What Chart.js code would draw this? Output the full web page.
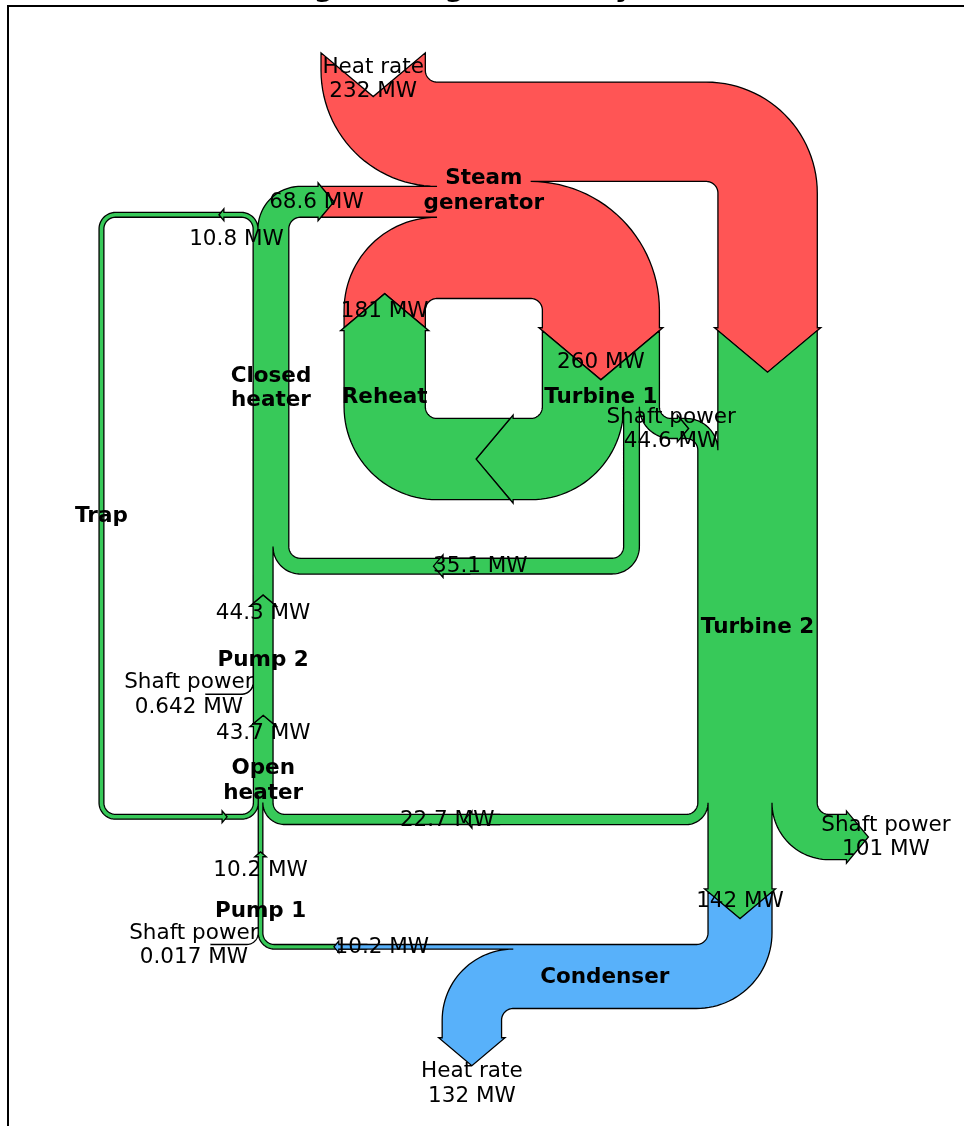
<!DOCTYPE html>
<html>
<head>
<meta charset="utf-8">
<script src="https://cdn.jsdelivr.net/npm/chart.js@4.4.1/dist/chart.umd.min.js"></script>
<style>
html, body { margin: 0; padding: 0; background: #fff; }
canvas { display: block; }
</style>
</head>
<body>
<canvas id="chart" width="964" height="1126"></canvas>
<script>
// Rankine power cycle: energy flow rates in MW
const Hdot = [260.431, 35.078, 180.794, 221.115, 22.700,
              142.361, 10.193, 10.210, 43.670, 44.312,
              68.631, 10.758, 10.758, 0.017, 0.642,
              232.121, 44.559, 100.613, 132.168];

const patchLabels = ['\n\nPump 1', '\n\nOpen\nheater', '\n\nPump 2', 'Closed\nheater', 'Trap',
                     'Steam\ngenerator', '\n\n\nTurbine 1', '\n\n\nReheat', 'Turbine 2', 'Condenser'];
const flows = [
  [Hdot[13], Hdot[6], -Hdot[7]],
  [Hdot[11], Hdot[7], Hdot[4], -Hdot[8]],
  [Hdot[14], Hdot[8], -Hdot[9]],
  [Hdot[9], Hdot[1], -Hdot[11], -Hdot[10]],
  [Hdot[11], -Hdot[12]],
  [Hdot[15], Hdot[10], Hdot[2], -Hdot[3], -Hdot[0]],
  [Hdot[0], -Hdot[16], -Hdot[1], -Hdot[2]],
  [Hdot[2], -Hdot[2]],
  [Hdot[3], Hdot[16], -Hdot[5], -Hdot[4], -Hdot[17]],
  [Hdot[5], -Hdot[18], -Hdot[6]]
];
const flowLabels = [
  ['Shaft power', '', null],
  [null, '', null, null],
  ['Shaft power', '', null],
  ['', '', null, null],
  ['\n', null],
  ['Heat rate', '', '', null, null],
  ['', null, null, null],
  [null, null],
  [null, 'Shaft power', null, '', 'Shaft power'],
  ['', 'Heat rate', null]
];
const orientations = [[1, -1, 0], [1, 0, -1, 0], [1, 0, 0], [0, -1, 1, -1], [1, 1],
                      [1, 0, -1, -1, -1], [0, 1, -1, -1], [-1, 0], [0, -1, 0, -1, 1], [-1, 1, 0]];
const priors = [null, 0, 1, 2, 3, 3, 5, 6, 6, 8];
const connects = [null, [2, 1], [3, 1], [2, 0], [2, 0], [3, 1], [4, 0], [3, 0], [1, 1], [2, 0]];
const pathLengths = [[0.4, 0.883, 0.25], [0.25, 0.25, 1.93, 0.25], [0.4, 0.25, 0.25],
                     [0.25, 1.543, 0.25, 0.25], [1.0, 1.01], 0.25, [0.25, 0.153, 1.543, 0.25],
                     [0.725, 0.25], [0.751, 0.15, 0.25, 1.93, 0.25], [0.45, 0.25, 0.883]];
const trunkLengths = [1, 1, 1, 2.914, 5.102, 1, 1, 1, 3.212, 1.764];
const rotations = [90, 0, 0, 0, 0, 0, 0, 0, 0, 0];
const colors = ['#37c959', '#37c959', '#37c959', '#37c959', '#37c959',
                '#ff5555', '#37c959', '#37c959', '#37c959', '#58b1fa'];
const unit = ' MW';
const titleLines = ['Rankine Power Cycle: Example 8.6 from Moran and Shapiro',
                    '"Fundamentals of Engineering Thermodynamics ", 6th ed., 2008'];

// sankey layout settings (matplotlib defaults, gap 0.5)
const SCALE = 1 / Hdot[0], GAP = 0.5, RADIUS = 0.1, SHOULDER = 0.03, OFFSET = 0.15, MARGIN = 0.4;
const PITCH = Math.tan(Math.PI * (1 - 100 / 180) / 2), TOL = 1e-6;
const RIGHT = 0, UP = 1, DOWN = 3;

const ARC = [[1, 0], [1, 0.265114773], [0.894571235, 0.519642327], [0.707106781, 0.707106781],
             [0.519642327, 0.894571235], [0.265114773, 1], [0, 1]];
const ARC_CODES = ['L', 'C', 'C', 'C', 'C', 'C', 'C'];

function arc(quadrant, cw, radius, cx, cy) {
  let v;
  if (quadrant === 0 || quadrant === 2) v = cw ? ARC : ARC.map(p => [p[1], p[0]]);
  else v = cw ? ARC.map(p => [-p[1], p[0]]) : ARC.map(p => [-p[0], p[1]]);
  if (quadrant > 1) radius = -radius;
  return v.map((p, i) => [ARC_CODES[i], radius * p[0] + cx, radius * p[1] + cy]);
}

function addInput(path, angle, flow, length) {
  if (angle === null) return [[0, 0], [0, 0]];
  let [, x, y] = path[path.length - 1];
  const dipdepth = (flow / 2) * PITCH;
  if (angle === RIGHT) {
    x -= length;
    const dip = [x + dipdepth, y + flow / 2];
    path.push(['L', x, y], ['L', dip[0], dip[1]], ['L', x, y + flow], ['L', x + GAP, y + flow]);
    return [dip, [dip[0] - OFFSET, dip[1]]];
  }
  x -= GAP;
  const sign = angle === UP ? 1 : -1;
  const dip = [x - flow / 2, y - sign * (length - dipdepth)];
  const quadrant = angle === DOWN ? 2 : 1;
  path.push(...arc(quadrant, angle === UP, RADIUS, x + RADIUS, y - sign * RADIUS));
  path.push(['L', x, y - sign * length], ['L', dip[0], dip[1]], ['L', x - flow, y - sign * length]);
  path.push(...arc(quadrant, angle === DOWN, flow + RADIUS, x + RADIUS, y - sign * RADIUS));
  path.push(['L', x - flow, y + sign * flow]);
  return [dip, [dip[0], dip[1] - sign * OFFSET]];
}

function addOutput(path, angle, flow, length) {
  if (angle === null) return [[0, 0], [0, 0]];
  let [, x, y] = path[path.length - 1];
  const tipheight = (SHOULDER - flow / 2) * PITCH;
  if (angle === RIGHT) {
    x += length;
    const tip = [x + tipheight, y + flow / 2];
    path.push(['L', x, y], ['L', x, y + SHOULDER], ['L', tip[0], tip[1]],
              ['L', x, y - SHOULDER + flow], ['L', x, y + flow], ['L', x - GAP, y + flow]);
    return [tip, [tip[0] + OFFSET, tip[1]]];
  }
  x += GAP;
  const sign = angle === UP ? 1 : -1;
  const quadrant = angle === UP ? 3 : 0;
  const tip = [x - flow / 2, y + sign * (length + tipheight)];
  path.push(...arc(quadrant, angle === UP, RADIUS, x - RADIUS, y + sign * RADIUS));
  path.push(['L', x, y + sign * length], ['L', x - SHOULDER, y + sign * length], ['L', tip[0], tip[1]],
            ['L', x + SHOULDER - flow, y + sign * length], ['L', x - flow, y + sign * length]);
  path.push(...arc(quadrant, angle === DOWN, RADIUS - flow, x - RADIUS, y + sign * RADIUS));
  path.push(['L', x - flow, y + sign * flow]);
  return [tip, [tip[0], tip[1] + sign * OFFSET]];
}

// reverse a path, moving each code onto the vertex before it
function revert(path) {
  const out = [];
  let next = 'L';
  for (let i = path.length - 1; i >= 0; i--) {
    out.push([next, path[i][1], path[i][2]]);
    next = path[i][0];
  }
  return out;
}

function rotatePt(p, quarter) {
  const a = quarter * Math.PI / 2;
  const c = Math.round(Math.cos(a)), s = Math.round(Math.sin(a));
  return [p[0] * c - p[1] * s, p[0] * s + p[1] * c];
}

function fmt(v) {
  return String(parseFloat(Math.abs(v).toPrecision(3)));
}

const diagrams = [];

function addDiagram(k) {
  const fl = flows[k], n = fl.length, trunk = trunkLengths[k];
  const scaled = fl.map(f => f * SCALE);
  const gain = scaled.reduce((s, f) => s + Math.max(f, 0), 0);
  const loss = scaled.reduce((s, f) => s + Math.min(f, 0), 0);
  const isIn = fl.map(f => f >= TOL ? true : (f <= -TOL ? false : null));
  const angles = orientations[k].map((o, i) => {
    if (isIn[i] === null) return null;
    if (o === 1) return isIn[i] ? DOWN : UP;
    if (o === 0) return RIGHT;
    return isIn[i] ? UP : DOWN;
  });

  let pl;
  if (Array.isArray(pathLengths[k])) {
    pl = pathLengths[k].slice();
  } else {
    const L = pathLengths[k];
    let ur = L, ul = L, lr = L, ll = L;
    pl = angles.map(() => 0); // side arrows get no length, as in matplotlib
    for (let i = 0; i < n; i++) {
      if (angles[i] === DOWN && isIn[i]) { pl[i] = ul; ul += scaled[i]; }
      else if (angles[i] === UP && isIn[i] === false) { pl[i] = ur; ur -= scaled[i]; }
    }
    for (let i = n - 1; i >= 0; i--) {
      if (angles[i] === UP && isIn[i]) { pl[i] = ll; ll += scaled[i]; }
      else if (angles[i] === DOWN && isIn[i] === false) { pl[i] = lr; lr -= scaled[i]; }
    }
    let hasL = false;
    for (let i = n - 1; i >= 0; i--) {
      if (angles[i] === RIGHT && isIn[i]) { if (hasL) pl[i] = 0; else hasL = true; }
    }
    let hasR = false;
    for (let i = 0; i < n; i++) {
      if (angles[i] === RIGHT && isIn[i] === false) { if (hasR) pl[i] = 0; else hasR = true; }
    }
  }

  const urpath = [['M', GAP - trunk / 2, gain / 2],
                  ['L', (GAP - trunk / 2) / 2, gain / 2],
                  ['C', (GAP - trunk / 2) / 8, gain / 2],
                  ['C', (trunk / 2 - GAP) / 8, -loss / 2],
                  ['L', (trunk / 2 - GAP) / 2, -loss / 2],
                  ['L', trunk / 2 - GAP, -loss / 2]];
  const llpath = [['L', trunk / 2 - GAP, loss / 2],
                  ['L', (trunk / 2 - GAP) / 2, loss / 2],
                  ['C', (trunk / 2 - GAP) / 8, loss / 2],
                  ['C', (GAP - trunk / 2) / 8, -gain / 2],
                  ['L', (GAP - trunk / 2) / 2, -gain / 2],
                  ['L', GAP - trunk / 2, -gain / 2]];
  const lrpath = [['L', trunk / 2 - GAP, loss / 2]];
  const ulpath = [['L', GAP - trunk / 2, gain / 2]];

  const tips = angles.map(() => [0, 0]);
  const labLoc = angles.map(() => [0, 0]);
  for (let i = 0; i < n; i++) {
    if (angles[i] === DOWN && isIn[i]) [tips[i], labLoc[i]] = addInput(ulpath, angles[i], scaled[i], pl[i]);
    else if (angles[i] === UP && isIn[i] === false) [tips[i], labLoc[i]] = addOutput(urpath, angles[i], scaled[i], pl[i]);
  }
  for (let i = n - 1; i >= 0; i--) {
    if (angles[i] === UP && isIn[i]) [tips[i], labLoc[i]] = addInput(llpath, angles[i], scaled[i], pl[i]);
    else if (angles[i] === DOWN && isIn[i] === false) [tips[i], labLoc[i]] = addOutput(lrpath, angles[i], scaled[i], pl[i]);
  }
  let hasLeft = false;
  for (let i = n - 1; i >= 0; i--) {
    if (angles[i] === RIGHT && isIn[i]) {
      if (!hasLeft) {
        const a = llpath[llpath.length - 1], b = ulpath[ulpath.length - 1];
        if (a[1] > b[1]) llpath.push(['L', b[1], a[2]]);
        hasLeft = true;
      }
      [tips[i], labLoc[i]] = addInput(llpath, angles[i], scaled[i], pl[i]);
    }
  }
  let hasRight = false;
  for (let i = 0; i < n; i++) {
    if (angles[i] === RIGHT && isIn[i] === false) {
      if (!hasRight) {
        const a = urpath[urpath.length - 1], b = lrpath[lrpath.length - 1];
        if (a[1] < b[1]) urpath.push(['L', b[1], a[2]]);
        hasRight = true;
      }
      [tips[i], labLoc[i]] = addOutput(urpath, angles[i], scaled[i], pl[i]);
    }
  }
  if (!hasLeft) { ulpath.pop(); llpath.pop(); }
  if (!hasRight) { lrpath.pop(); urpath.pop(); }

  let path = urpath.concat(revert(lrpath), llpath, revert(ulpath));
  path.push(['Z', urpath[0][1], urpath[0][2]]);

  let rot, shift;
  if (priors[k] === null) {
    rot = rotations[k] / 90;
    shift = [0, 0];
  } else {
    const pr = diagrams[priors[k]], [c0, c1] = connects[k];
    rot = pr.angles[c0] - angles[c1];
    const t = rotatePt(tips[c1], rot);
    shift = [pr.tips[c0][0] - t[0], pr.tips[c0][1] - t[1]];
  }
  const tf = p => { const r = rotatePt(p, rot); return [r[0] + shift[0], r[1] + shift[1]]; };
  const finalAngles = angles.map(a => a === null ? null : a + rot);
  path = path.map(s => [s[0]].concat(tf([s[1], s[2]])));

  const texts = fl.map((f, i) => {
    let lab = flowLabels[k][i];
    if (lab === null || angles[i] === null) lab = '';
    else { if (lab !== '') lab += '\n'; lab += fmt(f) + unit; }
    const p = tf(labLoc[i]);
    return { s: lab, x: p[0], y: p[1] };
  });

  diagrams.push({ angles: finalAngles, tips: tips.map(tf), path, texts,
                  label: { s: patchLabels[k], x: shift[0], y: shift[1] } });
}

for (let k = 0; k < patchLabels.length; k++) addDiagram(k);

// path codes -> polyline in data units
function flatten(path) {
  const pts = [];
  let cur = null;
  for (let i = 0; i < path.length; i++) {
    const [code, x, y] = path[i];
    if (code === 'C') {
      const c1 = [x, y], c2 = path[i + 1].slice(1), e = path[i + 2].slice(1);
      const N = 14;
      for (let j = 1; j <= N; j++) {
        const t = j / N, u = 1 - t;
        pts.push([u * u * u * cur[0] + 3 * u * u * t * c1[0] + 3 * u * t * t * c2[0] + t * t * t * e[0],
                  u * u * u * cur[1] + 3 * u * u * t * c1[1] + 3 * u * t * t * c2[1] + t * t * t * e[1]]);
      }
      cur = e;
      i += 2;
    } else {
      pts.push([x, y]);
      cur = [x, y];
    }
  }
  return pts;
}

let ext = [Infinity, -Infinity, Infinity, -Infinity];
diagrams.forEach(d => {
  d.points = flatten(d.path);
  d.points.concat(d.texts.map(t => [t.x, t.y])).forEach(p => {
    ext = [Math.min(ext[0], p[0]), Math.max(ext[1], p[0]), Math.min(ext[2], p[1]), Math.max(ext[3], p[1])];
  });
});

// equal-aspect view; the axes box (from 8,6) runs past the canvas edge
const AXES_W = 969, AXES_H = 1124, AREA_W = 956, AREA_H = 1120;
const yMax = ext[3] + MARGIN, yLow = ext[2] - MARGIN;
const ppu = AXES_H / (yMax - yLow);
const xMin = (ext[0] + ext[1]) / 2 - AXES_W / 2 / ppu;
const xMax = xMin + AREA_W / ppu;
const yMin = yMax - AREA_H / ppu;

const FS = 21.5;
function drawText(ctx, s, px, py, bold) {
  const lines = s.split('\n');
  const A = 0.78 * FS, D = 0.2 * FS, step = 1.2 * A + D;
  const H = A + (lines.length - 1) * step + D;
  ctx.font = (bold ? 'bold ' : '') + FS + 'px "DejaVu Sans"';
  ctx.textAlign = 'center';
  ctx.textBaseline = 'alphabetic';
  ctx.fillStyle = '#000';
  lines.forEach((ln, i) => { if (ln) ctx.fillText(ln, px, py - H / 2 + A + i * step); });
}

const sankeyPlugin = {
  id: 'sankeyPatches',
  afterDatasetsDraw(chart) {
    const ctx = chart.ctx, xs = chart.scales.x, ys = chart.scales.y;
    ctx.save();
    chart.data.datasets.forEach((ds, i) => {
      const pts = chart.getDatasetMeta(i).data;
      ctx.beginPath();
      pts.forEach((p, j) => j ? ctx.lineTo(p.x, p.y) : ctx.moveTo(p.x, p.y));
      ctx.closePath();
      ctx.fillStyle = ds.backgroundColor;
      ctx.fill();
      ctx.lineWidth = 1.3;
      ctx.lineJoin = 'miter';
      ctx.strokeStyle = '#000';
      ctx.stroke();
    });
    diagrams.forEach(d => {
      d.texts.forEach(t => drawText(ctx, t.s, xs.getPixelForValue(t.x), ys.getPixelForValue(t.y), false));
      drawText(ctx, d.label.s, xs.getPixelForValue(d.label.x), ys.getPixelForValue(d.label.y), true);
    });
    ctx.restore();
  },
  afterDraw(chart) {
    // title sits above the axes, mostly outside the picture
    const ctx = chart.ctx;
    ctx.save();
    ctx.font = 'bold 28px "DejaVu Sans"';
    ctx.textAlign = 'center';
    ctx.textBaseline = 'alphabetic';
    ctx.fillStyle = '#000';
    const cx = chart.chartArea.left + AXES_W / 2;
    ctx.fillText(titleLines[0], cx, -3.7 - 33);
    ctx.fillText(titleLines[1], cx, -3.7);
    ctx.restore();
  }
};

new Chart(document.getElementById('chart'), {
  type: 'scatter',
  data: {
    datasets: diagrams.map((d, i) => ({
      label: patchLabels[i].trim(),
      data: d.points.map(p => ({ x: p[0], y: p[1] })),
      backgroundColor: colors[i],
      pointRadius: 0,
      showLine: false
    }))
  },
  options: {
    responsive: false,
    animation: false,
    devicePixelRatio: 1,
    layout: { padding: { left: 8, top: 6, right: 0, bottom: 0 } },
    plugins: { legend: { display: false }, tooltip: { enabled: false } },
    scales: {
      x: { type: 'linear', position: 'top', min: xMin, max: xMax,
           grid: { display: false, drawTicks: false }, ticks: { display: false },
           border: { display: true, color: '#000', width: 2 } },
      y: { type: 'linear', position: 'left', min: yMin, max: yMax,
           grid: { display: false, drawTicks: false }, ticks: { display: false },
           border: { display: true, color: '#000', width: 2 } }
    }
  },
  plugins: [sankeyPlugin]
});
</script>
</body>
</html>
